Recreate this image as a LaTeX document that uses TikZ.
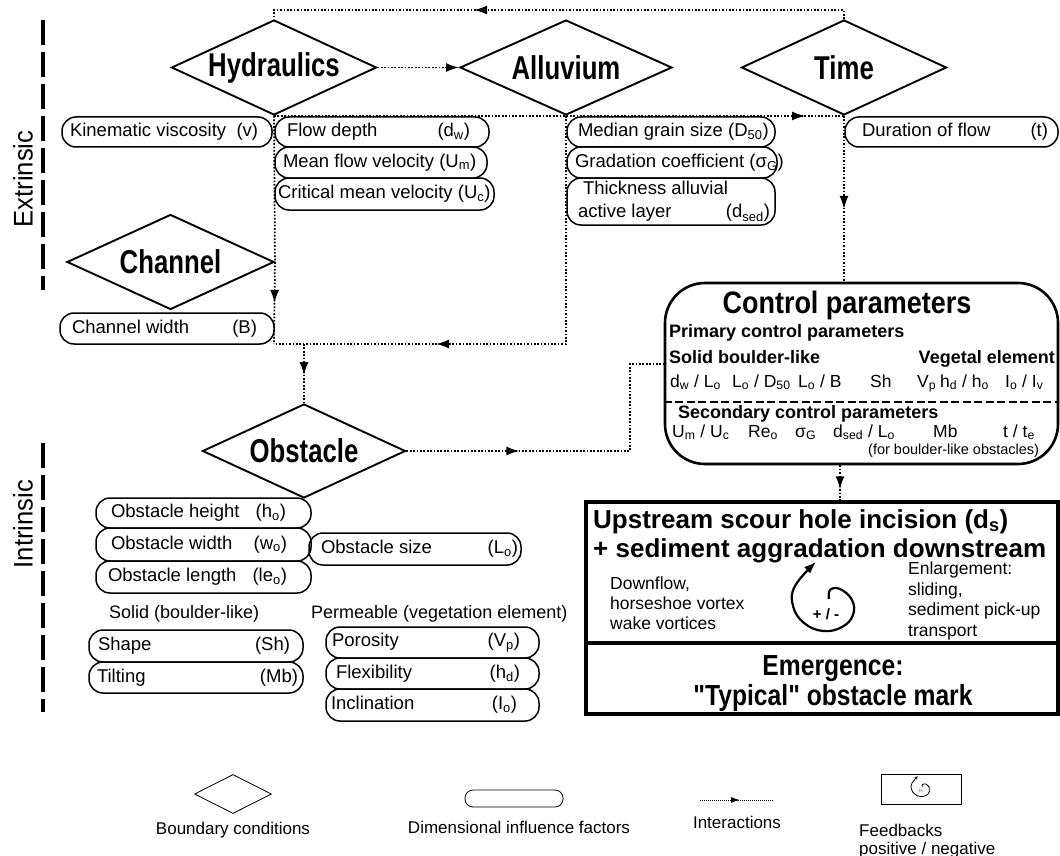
\documentclass[tikz,border=0pt]{standalone}
\usepackage{fontspec}
\setmainfont{Liberation Sans}
\usepackage{graphicx}
\usetikzlibrary{shapes.geometric,arrows.meta,decorations.markings,calc}
\newcommand\fsz[2]{\fontsize{#1}{#2}\selectfont}
\newcommand\sbs[1]{\textsubscript{#1}}
\newcommand\sx[2]{\scalebox{#1}[1]{#2}}
\newcommand\pb[9]{%
 \pgfmathsetmacro\pbw{#4-#2}\pgfmathsetmacro\pbh{#5-#3}%
 \pgfmathsetmacro\pbl{#6-#2}\pgfmathsetmacro\pbr{#4-#7}%
 \node[pbx, minimum width=\pbw pt, minimum height=\pbh pt] (#1) at ({(#2+#4)/2},{(#3+#5)/2})
   {\makebox[\pbw pt][l]{\hspace{\pbl pt}#8\hfill#9\hspace{\pbr pt}}};}
\tikzset{
 bc/.style={draw, shape=diamond, aspect=2.2, line width=1.9pt, inner sep=0pt,
   minimum width=205pt, minimum height=95pt, font=\bfseries\fsz{33}{36}},
 pbx/.style={draw, rounded corners=14pt, line width=1.5pt, inner sep=0pt, font=\fsz{18.5}{22}},
 inter/.style={line width=1.7pt, dash pattern=on 1.7pt off 1.7pt},
 am/.style={postaction={decorate}, decoration={markings,
   mark=at position #1 with {\pgfsetdash{}{0pt}\arrow{Latex[length=13pt,width=9pt]}}}},
 lbl/.style={inner sep=0pt, font=\fsz{18}{22}},
 rowl/.style={inner sep=0pt, anchor=base west, font=\fsz{17.5}{21}},
 blbl/.style={inner sep=0pt, font=\bfseries\fsz{18}{22}},
 bigb/.style={draw, line width=3.5pt, inner sep=0pt},
 sidebar/.style={line width=4pt, dash pattern=on 25pt off 7pt},
 lgt/.style={inner sep=0pt, font=\fsz{17}{20}},
}
\begin{document}
\begin{tikzpicture}[x=1pt,y=-1pt]
\useasboundingbox (0,0) rectangle (1060,856);

% side bars and labels
\coordinate (e1) at (43,20); \coordinate (e2) at (43,290);
\draw[sidebar] (e1) -- (e2);
\coordinate (i1) at (43,443); \coordinate (i2) at (43,712);
\draw[sidebar] (i1) -- (i2);
\node[rotate=90, inner sep=0pt, font=\fsz{27}{30}] (ext) at (23,179) {\sx{0.95}{Extrinsic}};
\node[rotate=90, inner sep=0pt, font=\fsz{27}{30}] (int) at (23,524) {\sx{0.95}{Intrinsic}};

% boundary conditions (diamonds)
\node[bc] (hyd) at (274,67.5) {\sx{0.78}{Hydraulics}};
\node[bc, minimum width=212pt] (allu) at (566,67.5) {\sx{0.78}{Alluvium}};
\node[bc] (time) at (844,67.5) {\sx{0.78}{Time}};
\node[bc, minimum width=207pt] (chan) at (170.5,262) {\sx{0.78}{Channel}};
\node[bc, minimum width=203pt, minimum height=94pt] (obs) at (304,451) {\sx{0.78}{Obstacle}};

% influence factor boxes
\pb{kin}{62}{117}{272}{147}{70}{255}{Kinematic viscosity\ \ (v)}{}
\pb{flow}{275}{117}{489}{147}{287}{470}{Flow depth}{(d\sbs{w})}
\pb{umean}{275}{147}{487}{178}{283}{480}{Mean flow velocity (U\sbs{m})}{}
\pb{ucrit}{275}{178}{494}{210}{278}{491}{Critical mean velocity (U\sbs{c})}{}
\pb{dfifty}{567}{117}{775}{147}{578}{772}{Median grain size (D\sbs{50})}{}
\pb{sigg}{567}{147}{777}{178}{575}{773}{Gradation coefficient (σ\sbs{G})}{}
\node[pbx, minimum width=208pt, minimum height=47pt, align=left, font=\fsz{18.5}{23}] (dsed) at (671,201.5)
  {\makebox[208pt][l]{\hspace{16pt}Thickness alluvial}\\\makebox[208pt][l]{\hspace{11pt}active layer\hfill(d\sbs{sed})\hspace{5pt}}};
\pb{dur}{845}{117}{1058}{147}{862}{1048}{Duration of flow}{(t)}
\pb{chw}{60}{313}{274}{344}{72}{257}{Channel width}{(B)}
\pb{oh}{96}{498}{311}{528}{111}{286}{Obstacle height}{(h\sbs{o})}
\pb{ow}{96}{528}{311}{561}{111}{287}{Obstacle width}{(w\sbs{o})}
\pb{ol}{96}{561}{311}{593}{108}{287}{Obstacle length}{(le\sbs{o})}
\pb{osz}{309}{533}{521}{565}{321}{518}{Obstacle size}{(L\sbs{o})}
\node[lbl, anchor=base west] (sol) at (109,618) {Solid (boulder-like)};
\node[lbl, anchor=base west] (perm) at (311,618) {Permeable (vegetation element)};
\pb{shp}{89}{630}{303}{662}{98}{290}{Shape}{(Sh)}
\pb{tilt}{89}{662}{303}{693}{97}{298}{Tilting}{(Mb)}
\pb{por}{326}{627}{539}{658}{332}{520}{Porosity}{(V\sbs{p})}
\pb{flex}{326}{658}{539}{689}{336}{520}{Flexibility}{(h\sbs{d})}
\pb{incl}{326}{689}{539}{721}{331}{517}{Inclination}{(I\sbs{o})}

% control parameters
\node[draw, line width=2.6pt, rounded corners=40pt, minimum width=393pt, minimum height=181pt, inner sep=0pt] (ctrl) at (861.5,373.5) {};
\node[anchor=base, inner sep=0pt, font=\bfseries\fsz{31}{34}] (cpt) at (847,313) {\sx{0.87}{Control parameters}};
\node[blbl, anchor=base west] (pcp) at (669,337) {Primary control parameters};
\node[blbl, anchor=base west] (sbl) at (669,363) {Solid boulder-like};
\node[blbl, anchor=base east] (veg) at (1055,363) {Vegetal element};
\node[rowl] (r1a) at (670,387) {d\sbs{w} / L\sbs{o}};
\node[rowl] (r1b) at (732,387) {L\sbs{o} / D\sbs{50}};
\node[rowl] (r1c) at (798,387) {L\sbs{o} / B};
\node[rowl] (r1d) at (870,387) {Sh};
\node[rowl] (r1e) at (917,387) {V\sbs{p}};
\node[rowl] (r1f) at (940,387) {h\sbs{d} / h\sbs{o}};
\node[rowl] (r1g) at (1005,387) {I\sbs{o} / I\sbs{v}};
\draw[line width=2.4pt, dash pattern=on 8pt off 3.5pt] (ctrl.west |- 0,402) -- (ctrl.east |- 0,402);
\node[blbl, anchor=base west] (scp) at (678,418) {Secondary control parameters};
\node[rowl] (r2a) at (672,437) {U\sbs{m} / U\sbs{c}};
\node[rowl] (r2b) at (748,437) {Re\sbs{o}};
\node[rowl] (r2c) at (795,437) {σ\sbs{G}};
\node[rowl] (r2d) at (833,437) {d\sbs{sed} / L\sbs{o}};
\node[rowl] (r2e) at (933,437) {Mb};
\node[rowl] (r2f) at (1003,437) {t / t\sbs{e}};
\node[anchor=base west, inner sep=0pt, font=\fsz{14.5}{17}] (fbo) at (868,454) {(for boulder-like obstacles)};

% result boxes
\node[bigb, minimum width=472pt, minimum height=141pt] (ups) at (822,572.5) {};
\node[bigb, minimum width=472pt, minimum height=71pt] (emg) at (822,678.5) {};
\node[anchor=base west, inner sep=0pt, font=\bfseries\fsz{26}{30}] (up1) at (593,528) {Upstream scour hole incision (d\sbs{s})};
\node[anchor=base west, inner sep=0pt, font=\bfseries\fsz{26}{30}] (up2) at (593,557) {+ sediment aggradation downstream};
\node[anchor=west, align=left, inner sep=0pt, font=\fsz{17.5}{20}] (dfl) at (610,603) {Downflow,\\horseshoe vortex\\wake vortices};
\node[anchor=west, align=left, inner sep=0pt, font=\fsz{17.5}{20.7}] (enl) at (908,601) {Enlargement:\\sliding,\\sediment pick-up\\transport};
\draw[line width=2.2pt, -{Latex[length=12pt,width=9pt]}] plot[smooth, tension=0.7] coordinates
  {(829,599) (830,590) (840,589) (852,600) (853,615) (842,627) (823,631) (804,623) (793,606) (795,586) (816,562)};
\node[inner sep=0pt, font=\bfseries\fsz{15}{18}] (pm) at (826,614) {+ / -};
\node[anchor=base, inner sep=0pt, font=\bfseries\fsz{29}{32}] (em1) at (833,675) {\sx{0.85}{Emergence:}};
\node[anchor=base, inner sep=0pt, font=\bfseries\fsz{29}{32}] (em2) at (833,705) {\sx{0.85}{\textquotedbl Typical\textquotedbl{} obstacle mark}};

% interactions
\coordinate (t0) at (0,10);
\draw[inter, am=379pt] (time.north) -- (time.north |- t0) -- (hyd.north |- t0) -- (hyd.north);
\draw[inter, -{Latex[length=13pt,width=9pt]}] (hyd.east) -- (allu.west);
\draw[inter, am=531pt] (hyd.south) -- (time.south);
\draw[inter, am=93pt] (time.south) -- (time.south |- ctrl.north);
\coordinate (j1) at (274,344);
\draw[inter, am=187pt] (hyd.south) -- (chan.east) -- (j1);
\draw[inter, am=358pt] (allu.south) -- (allu.south |- j1) -- (j1);
\coordinate (j2) at (304,344);
\draw[inter, am=31pt] (j2) -- (obs.north);
\coordinate (k1) at (630,451); \coordinate (k2) at (630,364);
\draw[inter, am=113pt] (obs.east) -- (k1) -- (k2) -- (ctrl.west |- k2);
\coordinate (c1) at (840,0);
\draw[inter, am=24pt] (ctrl.south -| c1) -- (ups.north -| c1);

% legend
\node[draw, shape=diamond, line width=0.8pt, minimum width=77pt, minimum height=39pt, inner sep=0pt] (lgd) at (233,794) {};
\node[lgt] (lgdt) at (233,830) {Boundary conditions};
\node[draw, rounded corners=8pt, line width=0.8pt, minimum width=98pt, minimum height=17pt, inner sep=0pt] (lgb) at (514,798.5) {};
\node[lgt] (lgbt) at (519,827) {Dimensional influence factors};
\coordinate (li1) at (700,800); \coordinate (li2) at (774,800);
\draw[line width=1pt, dash pattern=on 1pt off 1pt, postaction={decorate}, decoration={markings,
   mark=at position 40pt with {\pgfsetdash{}{0pt}\arrow{Latex[length=9pt,width=6pt]}}}] (li1) -- (li2);
\node[lgt] (lit) at (737,822) {Interactions};
\node[draw, line width=0.8pt, minimum width=80pt, minimum height=30pt, inner sep=0pt] (lfb) at (921,789) {};
\begin{scope}[shift={(921,789)}, scale=0.3]
 \draw[line width=0.8pt, -{Latex[length=4pt,width=3pt]}] plot[smooth, tension=0.7] coordinates
  {(4,-7) (5,-16) (15,-17) (27,-6) (28,9) (17,21) (-2,25) (-21,17) (-32,0) (-30,-20) (-9,-44)};
\end{scope}
\node[inner sep=0pt, font=\fsz{4}{5}] (lpm) at (921,791) {+/-};
\node[lgt, anchor=west] (lft1) at (859,830) {Feedbacks};
\node[lgt, anchor=west] (lft2) at (859,850) {positive / negative};
\end{tikzpicture}
\end{document}
